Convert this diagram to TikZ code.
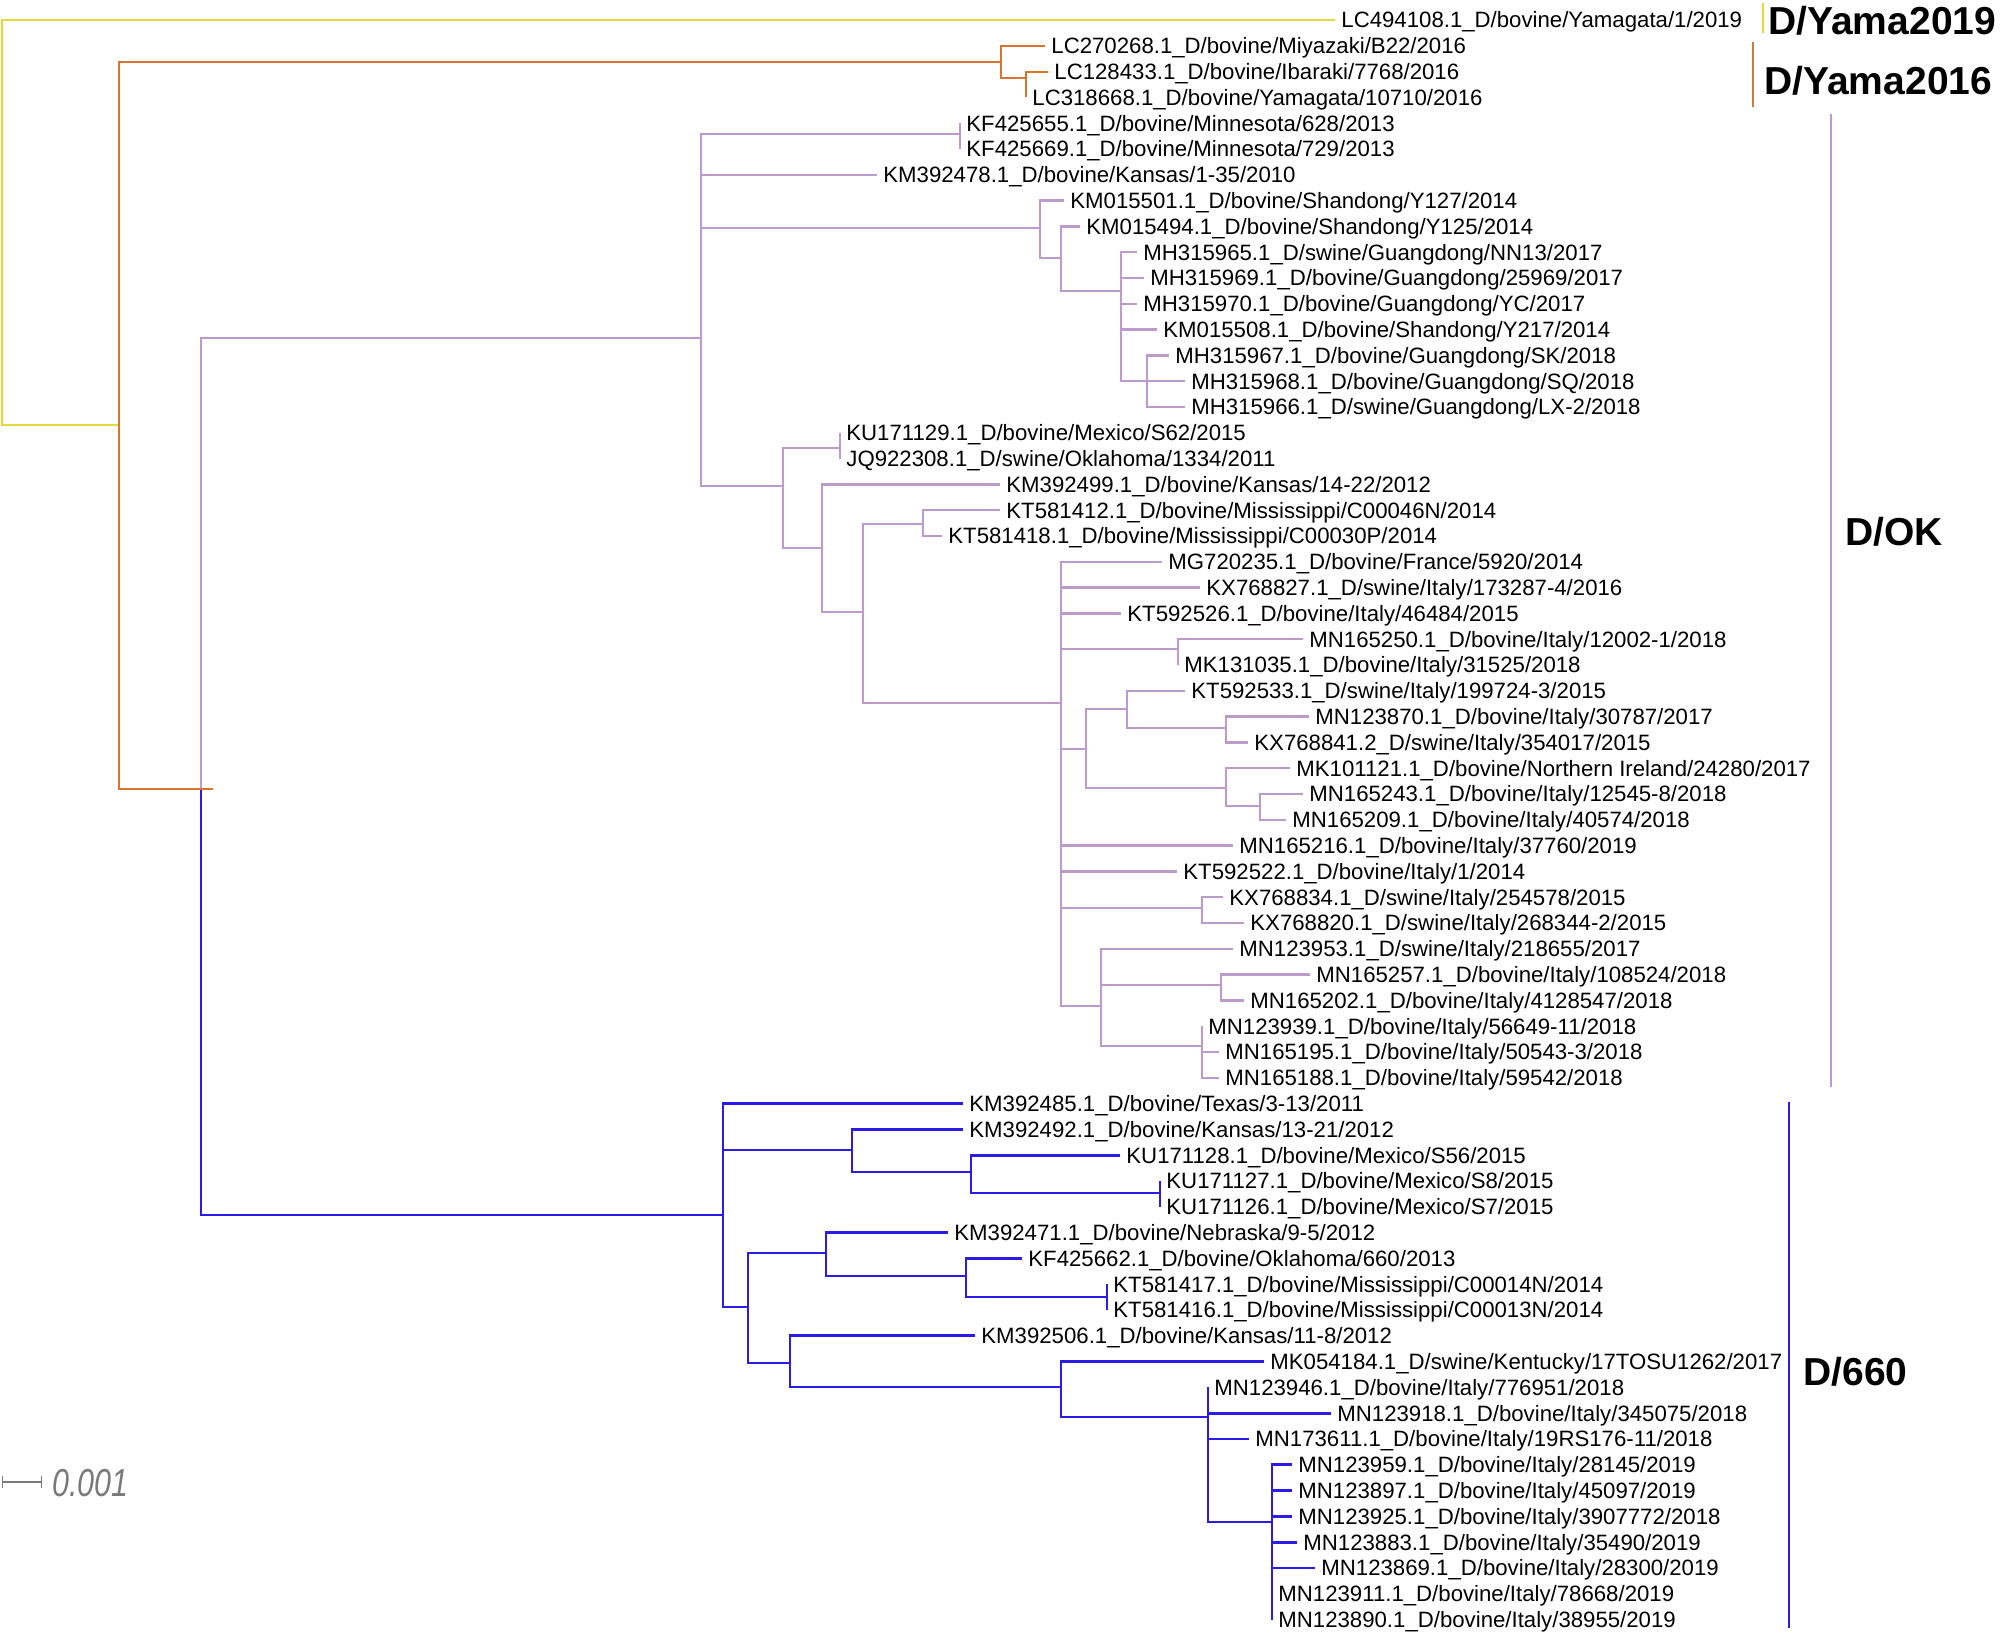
\documentclass[tikz,border=0pt]{standalone}
\usepackage{fontspec}
\setmainfont{Liberation Sans}
\usepackage{graphicx}
\usepackage{tikz}
\usetikzlibrary{positioning,arrows.meta}
\definecolor{YamaYellow}{HTML}{E6D83A}
\definecolor{YamaOrange}{HTML}{D9742C}
\definecolor{BarOrange}{HTML}{C97A42}
\definecolor{OKPurple}{HTML}{BC9ACB}
\definecolor{SixBlue}{HTML}{2B1BE6}
\definecolor{ScaleGray}{HTML}{7A7A7A}

\begin{document}
\begin{tikzpicture}[x=0.5pt, y=-0.5pt,
  leaf/.style={anchor=west, inner xsep=3pt, inner ysep=0pt, text height=7.9pt, text depth=0pt, font=\fontsize{11.1}{13}\selectfont},
  clade/.style={anchor=west, inner sep=0pt, font=\bfseries\fontsize{19.5}{22}\selectfont},
  yamabr/.style={draw=YamaYellow, line width=1.1pt},
  oldbr/.style={draw=YamaOrange, line width=1.1pt},
  okbr/.style={draw=OKPurple, line width=1.2pt},
  sixbr/.style={draw=SixBlue, line width=1.4pt}]
\useasboundingbox (0,0) rectangle (2002,1634);

\coordinate (root) at (2,222);
\coordinate (o1) at (119,425);
\coordinate (o2) at (1001,61.7);
\coordinate (o3) at (1026,78);
\coordinate (p0) at (201,789);
\coordinate (p1) at (701,338);
\coordinate (kf) at (960,134);
\coordinate (s0) at (1040,228);
\coordinate (s1) at (1061,258);
\coordinate (s2) at (1121,291);
\coordinate (s3) at (1147,381);
\coordinate (m0) at (783,486);
\coordinate (mx) at (840,448);
\coordinate (m1) at (822,548);
\coordinate (m2) at (863,612);
\coordinate (kt) at (923,524);
\coordinate (it0) at (1061,703);
\coordinate (it1) at (1178,649);
\coordinate (it2) at (1086,749);
\coordinate (it3) at (1127,709);
\coordinate (it4) at (1226,728);
\coordinate (it5) at (1226,788);
\coordinate (it6) at (1260,806);
\coordinate (it7) at (1202,908);
\coordinate (it8) at (1101,1006);
\coordinate (it9) at (1221,985);
\coordinate (it10) at (1202,1046);
\coordinate (b0) at (723,1215);
\coordinate (b1) at (852,1150);
\coordinate (b2) at (971,1172);
\coordinate (b3) at (1160,1193);
\coordinate (b4) at (748,1307);
\coordinate (b5) at (826,1253);
\coordinate (b6) at (966,1276);
\coordinate (b7) at (1107,1297);
\coordinate (b8) at (790,1363);
\coordinate (b9) at (1061,1387);
\coordinate (b10) at (1208,1417);
\coordinate (b11) at (1272,1522);

\node[leaf] (l1) at (1335,20) {LC494108.1\_D/bovine/Yamagata/1/2019};
\node[leaf] (l2) at (1045,45.8) {LC270268.1\_D/bovine/Miyazaki/B22/2016};
\node[leaf] (l3) at (1048,71.6) {LC128433.1\_D/bovine/Ibaraki/7768/2016};
\node[leaf] (l4) at (1026,97.4) {LC318668.1\_D/bovine/Yamagata/10710/2016};
\node[leaf] (l5) at (960,123.2) {KF425655.1\_D/bovine/Minnesota/628/2013};
\node[leaf] (l6) at (960,149) {KF425669.1\_D/bovine/Minnesota/729/2013};
\node[leaf] (l7) at (877,174.8) {KM392478.1\_D/bovine/Kansas/1-35/2010};
\node[leaf] (l8) at (1064,200.6) {KM015501.1\_D/bovine/Shandong/Y127/2014};
\node[leaf] (l9) at (1080,226.4) {KM015494.1\_D/bovine/Shandong/Y125/2014};
\node[leaf] (l10) at (1137,252.2) {MH315965.1\_D/swine/Guangdong/NN13/2017};
\node[leaf] (l11) at (1144,278) {MH315969.1\_D/bovine/Guangdong/25969/2017};
\node[leaf] (l12) at (1137,303.8) {MH315970.1\_D/bovine/Guangdong/YC/2017};
\node[leaf] (l13) at (1157,329.6) {KM015508.1\_D/bovine/Shandong/Y217/2014};
\node[leaf] (l14) at (1169,355.4) {MH315967.1\_D/bovine/Guangdong/SK/2018};
\node[leaf] (l15) at (1185,381.2) {MH315968.1\_D/bovine/Guangdong/SQ/2018};
\node[leaf] (l16) at (1185,407) {MH315966.1\_D/swine/Guangdong/LX-2/2018};
\node[leaf] (l17) at (840,432.8) {KU171129.1\_D/bovine/Mexico/S62/2015};
\node[leaf] (l18) at (840,458.6) {JQ922308.1\_D/swine/Oklahoma/1334/2011};
\node[leaf] (l19) at (1000,484.4) {KM392499.1\_D/bovine/Kansas/14-22/2012};
\node[leaf] (l20) at (1000,510.2) {KT581412.1\_D/bovine/Mississippi/C00046N/2014};
\node[leaf] (l21) at (942,536) {KT581418.1\_D/bovine/Mississippi/C00030P/2014};
\node[leaf] (l22) at (1162,561.8) {MG720235.1\_D/bovine/France/5920/2014};
\node[leaf] (l23) at (1200,587.6) {KX768827.1\_D/swine/Italy/173287-4/2016};
\node[leaf] (l24) at (1121,613.4) {KT592526.1\_D/bovine/Italy/46484/2015};
\node[leaf] (l25) at (1303,639.2) {MN165250.1\_D/bovine/Italy/12002-1/2018};
\node[leaf] (l26) at (1178,665) {MK131035.1\_D/bovine/Italy/31525/2018};
\node[leaf] (l27) at (1185,690.8) {KT592533.1\_D/swine/Italy/199724-3/2015};
\node[leaf] (l28) at (1309,716.6) {MN123870.1\_D/bovine/Italy/30787/2017};
\node[leaf] (l29) at (1248,742.4) {KX768841.2\_D/swine/Italy/354017/2015};
\node[leaf] (l30) at (1290,768.2) {MK101121.1\_D/bovine/Northern Ireland/24280/2017};
\node[leaf] (l31) at (1303,794) {MN165243.1\_D/bovine/Italy/12545-8/2018};
\node[leaf] (l32) at (1286,819.8) {MN165209.1\_D/bovine/Italy/40574/2018};
\node[leaf] (l33) at (1233,845.6) {MN165216.1\_D/bovine/Italy/37760/2019};
\node[leaf] (l34) at (1177,871.4) {KT592522.1\_D/bovine/Italy/1/2014};
\node[leaf] (l35) at (1223,897.2) {KX768834.1\_D/swine/Italy/254578/2015};
\node[leaf] (l36) at (1244,923) {KX768820.1\_D/swine/Italy/268344-2/2015};
\node[leaf] (l37) at (1233,948.8) {MN123953.1\_D/swine/Italy/218655/2017};
\node[leaf] (l38) at (1310,974.6) {MN165257.1\_D/bovine/Italy/108524/2018};
\node[leaf] (l39) at (1244,1000.4) {MN165202.1\_D/bovine/Italy/4128547/2018};
\node[leaf] (l40) at (1202,1026.2) {MN123939.1\_D/bovine/Italy/56649-11/2018};
\node[leaf] (l41) at (1219,1052) {MN165195.1\_D/bovine/Italy/50543-3/2018};
\node[leaf] (l42) at (1219,1077.8) {MN165188.1\_D/bovine/Italy/59542/2018};
\node[leaf] (l43) at (963,1103.6) {KM392485.1\_D/bovine/Texas/3-13/2011};
\node[leaf] (l44) at (963,1129.4) {KM392492.1\_D/bovine/Kansas/13-21/2012};
\node[leaf] (l45) at (1120,1155.2) {KU171128.1\_D/bovine/Mexico/S56/2015};
\node[leaf] (l46) at (1160,1181) {KU171127.1\_D/bovine/Mexico/S8/2015};
\node[leaf] (l47) at (1160,1206.8) {KU171126.1\_D/bovine/Mexico/S7/2015};
\node[leaf] (l48) at (948,1232.6) {KM392471.1\_D/bovine/Nebraska/9-5/2012};
\node[leaf] (l49) at (1022,1258.4) {KF425662.1\_D/bovine/Oklahoma/660/2013};
\node[leaf] (l50) at (1107,1284.2) {KT581417.1\_D/bovine/Mississippi/C00014N/2014};
\node[leaf] (l51) at (1107,1310) {KT581416.1\_D/bovine/Mississippi/C00013N/2014};
\node[leaf] (l52) at (975,1335.8) {KM392506.1\_D/bovine/Kansas/11-8/2012};
\node[leaf] (l53) at (1264,1361.6) {MK054184.1\_D/swine/Kentucky/17TOSU1262/2017};
\node[leaf] (l54) at (1208,1387.4) {MN123946.1\_D/bovine/Italy/776951/2018};
\node[leaf] (l55) at (1331,1413.2) {MN123918.1\_D/bovine/Italy/345075/2018};
\node[leaf] (l56) at (1249,1439) {MN173611.1\_D/bovine/Italy/19RS176-11/2018};
\node[leaf] (l57) at (1292,1464.8) {MN123959.1\_D/bovine/Italy/28145/2019};
\node[leaf] (l58) at (1292,1490.6) {MN123897.1\_D/bovine/Italy/45097/2019};
\node[leaf] (l59) at (1292,1516.4) {MN123925.1\_D/bovine/Italy/3907772/2018};
\node[leaf] (l60) at (1297,1542.2) {MN123883.1\_D/bovine/Italy/35490/2019};
\node[leaf] (l61) at (1315,1568) {MN123869.1\_D/bovine/Italy/28300/2019};
\node[leaf] (l62) at (1272,1593.8) {MN123911.1\_D/bovine/Italy/78668/2019};
\node[leaf] (l63) at (1272,1619.6) {MN123890.1\_D/bovine/Italy/38955/2019};

\draw[yamabr] (root) |- (o1);
\draw[yamabr] (root) |- (l1.west);
\draw[oldbr] (o1) |- (o2);
\draw[oldbr] (o2) |- (o3);
\foreach \p/\c in {o2/2,o3/3,o3/4}
  \draw[oldbr] (\p) |- (l\c.west);
\foreach \p/\c in {p0/p1,p1/kf,p1/s0,p1/m0,s0/s1,s1/s2,s2/s3,m0/mx,m0/m1,m1/m2,m2/kt,m2/it0,it0/it1,it0/it2,it2/it3,it2/it5,it3/it4,it5/it6,it0/it7,it0/it8,it8/it9,it8/it10}
  \draw[okbr] (\p) |- (\c);
\foreach \p/\c in {kf/5,kf/6,p1/7,s0/8,s1/9,s2/10,s2/11,s2/12,s2/13,s3/14,s3/15,s3/16,mx/17,mx/18,m1/19,kt/20,kt/21,it0/22,it0/23,it0/24,it1/25,it1/26,it3/27,it4/28,it4/29,it5/30,it6/31,it6/32,it0/33,it0/34,it7/35,it7/36,it8/37,it9/38,it9/39,it10/40,it10/41,it10/42}
  \draw[okbr] (\p) |- (l\c.west);
\foreach \p/\c in {p0/b0,b0/b1,b0/b4,b1/b2,b2/b3,b4/b5,b4/b8,b5/b6,b6/b7,b8/b9,b9/b10,b10/b11}
  \draw[sixbr] (\p) |- (\c);
\foreach \p/\c in {b0/43,b1/44,b2/45,b3/46,b3/47,b5/48,b6/49,b7/50,b7/51,b8/52,b9/53,b10/54,b10/55,b10/56,b11/57,b11/58,b11/59,b11/60,b11/61,b11/62,b11/63}
  \draw[sixbr] (\p) |- (l\c.west);
\draw[oldbr] (o1) |- (p0) -- ++(12,0);

\draw[draw=YamaYellow, line width=1.1pt] (1763,3) -- (1763,33);
\draw[draw=BarOrange, line width=1.1pt] (1753,42) -- (1753,107);
\draw[draw=OKPurple, line width=1.2pt] (1831,114) -- (1831,1087);
\draw[draw=SixBlue, line width=1.4pt] (1789,1102) -- (1789,1628);
\node[clade] (cy19) at (1768,21) {D/Yama2019};
\node[clade] (cy16) at (1764,81) {D/Yama2016};
\node[clade] (cok) at (1845,532) {D/OK};
\node[clade] (c660) at (1803,1372) {D/660};

\coordinate (sb1) at (2,1482);
\coordinate (sb2) at (42,1482);
\draw[ScaleGray, line width=0.6pt, {Bar[width=6pt]}-{Bar[width=6pt]}] (sb1) -- (sb2);
\node[anchor=west, inner sep=0pt, text=ScaleGray] (sbl) at (52,1483) {\scalebox{0.78}[1]{\fontsize{19.5}{20}\selectfont\itshape 0.001}};
\end{tikzpicture}
\end{document}
